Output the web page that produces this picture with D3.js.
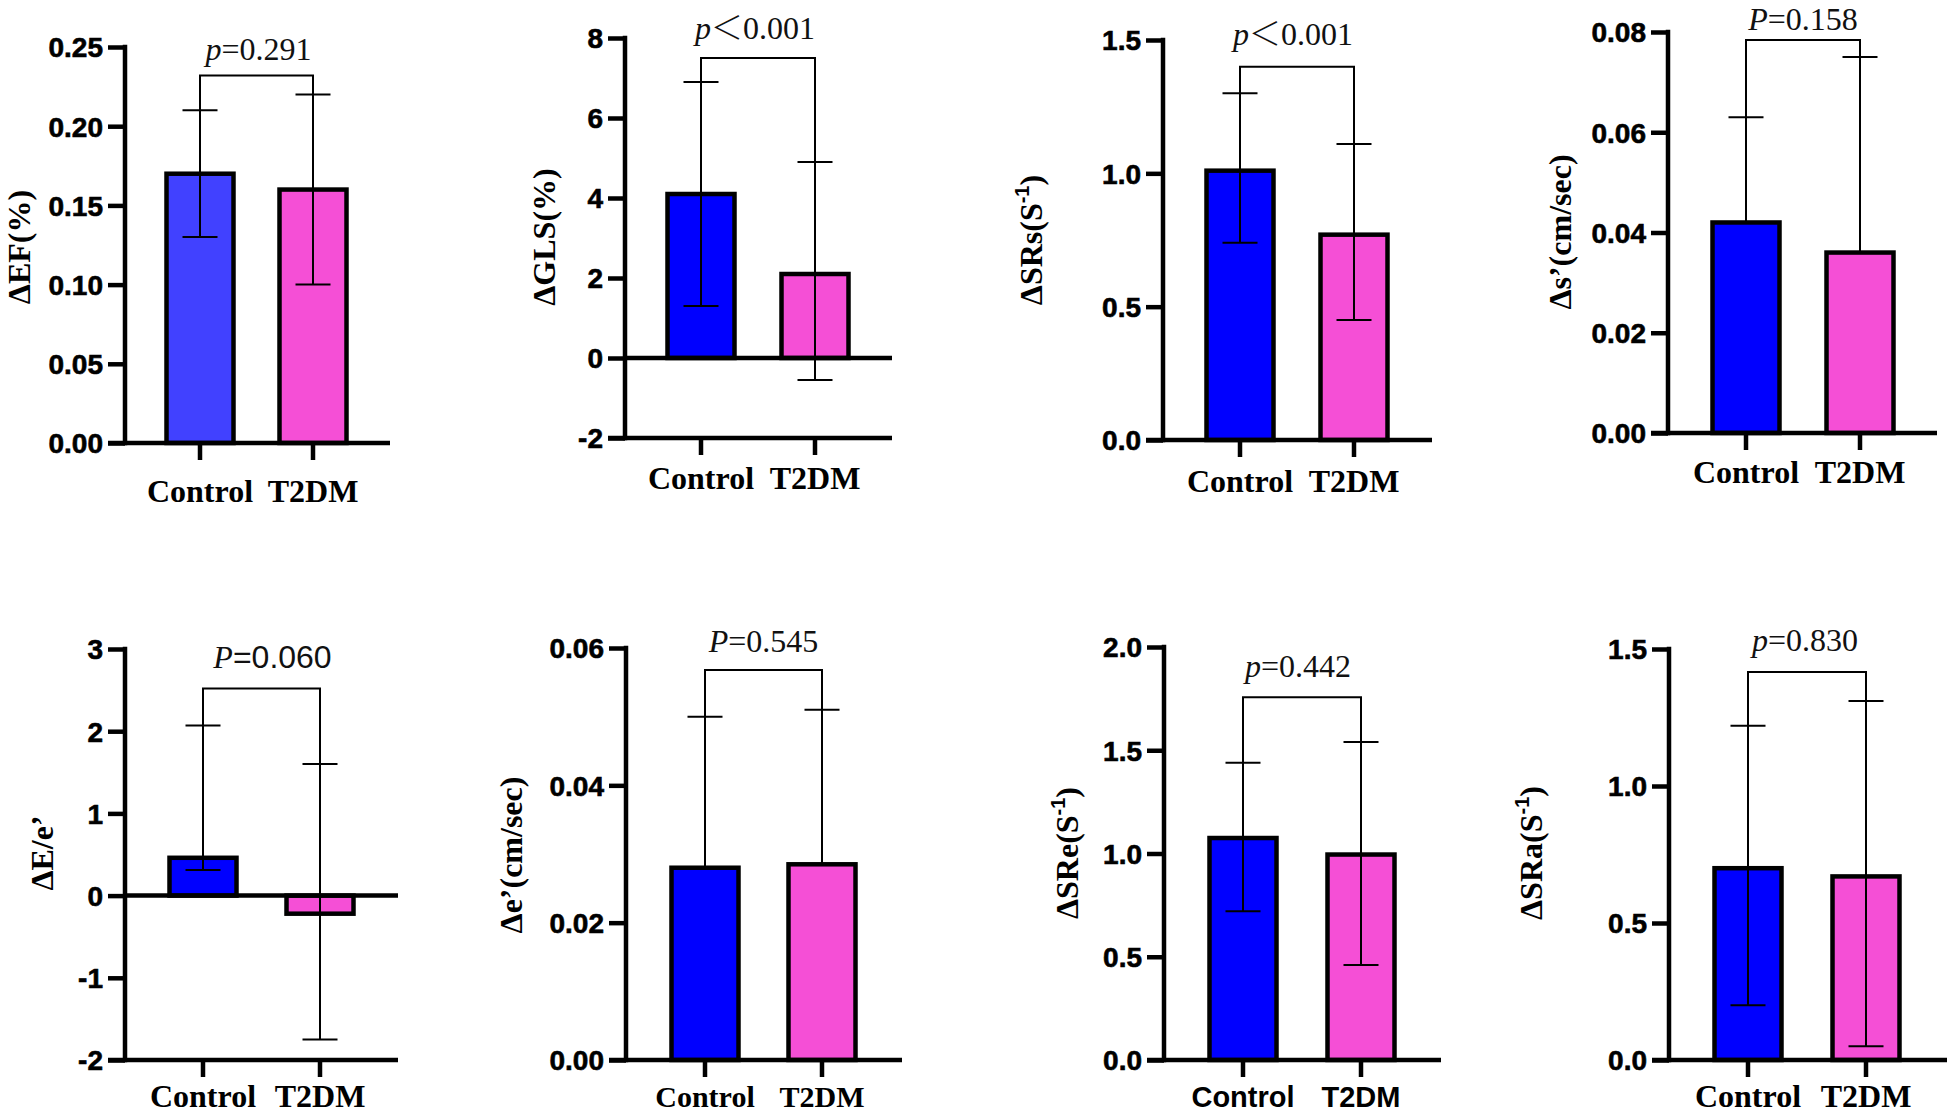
<!DOCTYPE html>
<html>
<head>
<meta charset="utf-8">
<script src="https://cdn.jsdelivr.net/npm/d3@7"></script>
<style>
  html, body { margin: 0; padding: 0; background: #fff; }
  svg { display: block; }
</style>
</head>
<body>
<svg id="chart" width="1950" height="1116"></svg>
<script>
// ---------------- data ----------------
const categories = ["Control", "T2DM"];
const yLabelMain = ["ΔEF(%)", "ΔGLS(%)", "ΔSRs(S", "Δs’(cm/sec)", "ΔE/e’", "Δe’(cm/sec)", "ΔSRe(S", "ΔSRa(S"];
const yLabelSup  = [null, null, "-1", null, null, null, "-1", "-1"];
const yLabelTail = ["", "", ")", "", "", "", ")", ")"];

const controlMean = [0.17, 4.1, 1.01, 0.042, 0.46, 0.028, 1.075, 0.70];
const controlLow  = [0.13, 1.3, 0.74, null, 0.31, null, 0.72, 0.20];
const controlHigh = [0.21, 6.9, 1.30, 0.063, 2.07, 0.050, 1.44, 1.22];

const t2dmMean = [0.16, 2.1, 0.77, 0.036, -0.22, 0.0285, 0.995, 0.67];
const t2dmLow  = [0.10, -0.55, 0.45, null, -1.75, null, 0.46, 0.05];
const t2dmHigh = [0.22, 4.9, 1.11, 0.075, 1.60, 0.051, 1.54, 1.31];

const bracketLevel = [0.232, 7.5, 1.40, 0.0784, 2.52, 0.0568, 1.757, 1.416];
const pSymbol = ["p", "p", "p", "P", "P", "P", "p", "p"];
const pRelation = ["=", "＜", "＜", "=", "=", "=", "=", "="];
const pValue = ["0.291", "0.001", "0.001", "0.158", "0.060", "0.545", "0.442", "0.830"];

const yDomains = [[0, 0.25], [-2, 8], [0, 1.5], [0, 0.08], [-2, 3], [0, 0.06], [0, 2.0], [0, 1.5]];
const yTickValues = [
  [0, 0.05, 0.10, 0.15, 0.20, 0.25],
  [-2, 0, 2, 4, 6, 8],
  [0, 0.5, 1.0, 1.5],
  [0, 0.02, 0.04, 0.06, 0.08],
  [-2, -1, 0, 1, 2, 3],
  [0, 0.02, 0.04, 0.06],
  [0, 0.5, 1.0, 1.5, 2.0],
  [0, 0.5, 1.0, 1.5]
];
const yTickFormats = [".2f", "d", ".1f", ".2f", "d", ".2f", ".1f", ".1f"];

// ---------------- layout & style ----------------
const layout = [
  {ax:125,  top:47,  bot:443,  right:390,  c:[200,313],   labX:30,   labY:247, pY:60,  pDx:2,  catY:502,  catFont:"serif", catSize:32},
  {ax:625,  top:38,  bot:438,  right:892,  c:[701,815],   labX:555,  labY:237, pY:39,  pDx:-3, catY:489,  catFont:"serif", catSize:32},
  {ax:1163, top:40,  bot:440,  right:1432, c:[1240,1354], labX:1042, labY:240, pY:45,  pDx:-4, catY:492,  catFont:"serif", catSize:32},
  {ax:1668, top:32,  bot:433,  right:1937, c:[1746,1860], labX:1571, labY:232, pY:30,  pDx:0,  catY:483,  catFont:"serif", catSize:32},
  {ax:125,  top:649, bot:1060, right:398,  c:[203,320],   labX:53,   labY:853, pY:668, pDx:11, catY:1107, catFont:"serif", catSize:32},
  {ax:626,  top:648, bot:1060, right:902,  c:[705,822],   labX:522,  labY:855, pY:652, pDx:0,  catY:1107, catFont:"serif", catSize:30},
  {ax:1164, top:647, bot:1060, right:1441, c:[1243,1361], labX:1078, labY:853, pY:677, pDx:-4, catY:1107, catFont:"sans",  catSize:29},
  {ax:1669, top:649, bot:1060, right:1947, c:[1748,1866], labX:1542, labY:853, pY:651, pDx:-2, catY:1107, catFont:"serif", catSize:32}
];
const controlColors = ["#4141ff", "#0000ff", "#0000ff", "#0000ff", "#0000ff", "#0000ff", "#0000ff", "#0000ff"];
const t2dmColor = "#f54fd6";
const SERIF = "'Liberation Serif','Times New Roman',Times,serif";
const SANS = "'Liberation Sans',Arial,Helvetica,sans-serif";
const CJK = "'Noto Sans CJK SC','Noto Sans CJK JP',sans-serif";
const axisW = 4.5, tickLen = 17, barW = 67, barStroke = 4.5, errW = 2, capW = 35;

const locale = d3.formatLocale({decimal: ".", thousands: ",", grouping: [3], currency: ["", ""], minus: "-"});

const svg = d3.select("#chart");
svg.append("rect").attr("width", 1950).attr("height", 1116).attr("fill", "#fff");

for (let i = 0; i < 8; i++) {
  const L = layout[i];
  const g = svg.append("g");
  const y = d3.scaleLinear().domain(yDomains[i]).range([L.bot, L.top]);
  const x = d3.scalePoint().domain(categories).range(L.c);

  const means = [controlMean[i], t2dmMean[i]];
  const lows = [controlLow[i], t2dmLow[i]];
  const highs = [controlHigh[i], t2dmHigh[i]];
  const colors = [controlColors[i], t2dmColor];

  // bars
  g.selectAll("rect.bar").data(categories).enter().append("rect")
    .attr("class", "bar")
    .attr("x", d => x(d) - barW / 2)
    .attr("width", barW)
    .attr("y", (d, k) => y(Math.max(0, means[k])))
    .attr("height", (d, k) => Math.abs(y(means[k]) - y(0)))
    .attr("fill", (d, k) => colors[k])
    .attr("stroke", "#000")
    .attr("stroke-width", barStroke);

  // error bars
  categories.forEach((cat, k) => {
    const cx = x(cat);
    const lo = lows[k] === null ? means[k] : lows[k];
    g.append("line").attr("x1", cx).attr("x2", cx)
      .attr("y1", y(lo)).attr("y2", y(highs[k]))
      .attr("stroke", "#000").attr("stroke-width", errW);
    g.append("line").attr("x1", cx - capW / 2).attr("x2", cx + capW / 2)
      .attr("y1", y(highs[k])).attr("y2", y(highs[k]))
      .attr("stroke", "#000").attr("stroke-width", errW);
    if (lows[k] !== null) {
      g.append("line").attr("x1", cx - capW / 2).attr("x2", cx + capW / 2)
        .attr("y1", y(lows[k])).attr("y2", y(lows[k]))
        .attr("stroke", "#000").attr("stroke-width", errW);
    }
  });

  // significance bracket
  const bY = y(bracketLevel[i]);
  const x0 = x(categories[0]), x1 = x(categories[1]);
  g.append("path")
    .attr("d", `M${x0},${y(highs[0])}V${bY}H${x1}V${y(highs[1])}`)
    .attr("fill", "none").attr("stroke", "#000").attr("stroke-width", errW);

  // p text
  const restFont = i === 4 ? SANS : SERIF;
  const pt = g.append("text")
    .attr("x", (x0 + x1) / 2 + L.pDx).attr("y", L.pY)
    .attr("text-anchor", "middle")
    .attr("font-size", 32).attr("fill", "#111");
  pt.append("tspan").attr("font-family", SERIF).attr("font-style", "italic").text(pSymbol[i]);
  pt.append("tspan").attr("font-family", pRelation[i] === "＜" ? CJK : restFont)
    .attr("font-weight", pRelation[i] === "＜" ? 300 : null)
    .text(pRelation[i]);
  pt.append("tspan").attr("font-family", restFont).text(pValue[i]);

  // y axis
  const fmt = yTickFormats[i] === "d" ? locale.format("d") : locale.format(yTickFormats[i]);
  const yAxis = d3.axisLeft(y).tickValues(yTickValues[i]).tickFormat(fmt)
    .tickSize(tickLen).tickSizeOuter(0).tickPadding(5);
  const ga = g.append("g").attr("transform", `translate(${L.ax},0)`).call(yAxis);
  ga.select(".domain").attr("stroke", "#000").attr("stroke-width", axisW)
    .attr("d", `M0,${L.bot + axisW / 2}V${L.top - axisW / 2}`);
  ga.selectAll(".tick line").attr("stroke", "#000").attr("stroke-width", axisW);
  ga.selectAll(".tick text").attr("font-family", SANS).attr("font-weight", "bold")
    .attr("font-size", 28).attr("fill", "#000").attr("dy", "0.35em")
    .attr("stroke", "#000").attr("stroke-width", 0.6);

  // x axis baseline (at bottom of y range)
  g.append("line").attr("x1", L.ax - tickLen).attr("x2", L.right)
    .attr("y1", L.bot).attr("y2", L.bot)
    .attr("stroke", "#000").attr("stroke-width", axisW);
  // zero line when domain includes negatives
  if (yDomains[i][0] < 0) {
    g.append("line").attr("x1", L.ax).attr("x2", L.right)
      .attr("y1", y(0)).attr("y2", y(0))
      .attr("stroke", "#000").attr("stroke-width", axisW);
  }
  // x ticks and category labels
  categories.forEach(cat => {
    g.append("line").attr("x1", x(cat)).attr("x2", x(cat))
      .attr("y1", L.bot).attr("y2", L.bot + tickLen)
      .attr("stroke", "#000").attr("stroke-width", axisW);
    g.append("text").attr("x", x(cat)).attr("y", L.catY)
      .attr("text-anchor", "middle")
      .attr("font-family", L.catFont === "sans" ? SANS : SERIF)
      .attr("font-weight", "bold").attr("font-size", L.catSize).attr("fill", "#000")
      .text(cat);
  });

  // y label
  const yl = g.append("text")
    .attr("transform", `translate(${L.labX},${L.labY}) rotate(-90)`)
    .attr("text-anchor", "middle")
    .attr("font-family", SERIF).attr("font-weight", "bold").attr("font-size", 32).attr("fill", "#000");
  yl.append("tspan").text(yLabelMain[i]);
  if (yLabelSup[i]) {
    yl.append("tspan").attr("font-family", SANS).attr("font-size", 20).attr("dy", -13).text(yLabelSup[i]);
    yl.append("tspan").attr("dy", 13).text(yLabelTail[i]);
  }
}
</script>
</body>
</html>
